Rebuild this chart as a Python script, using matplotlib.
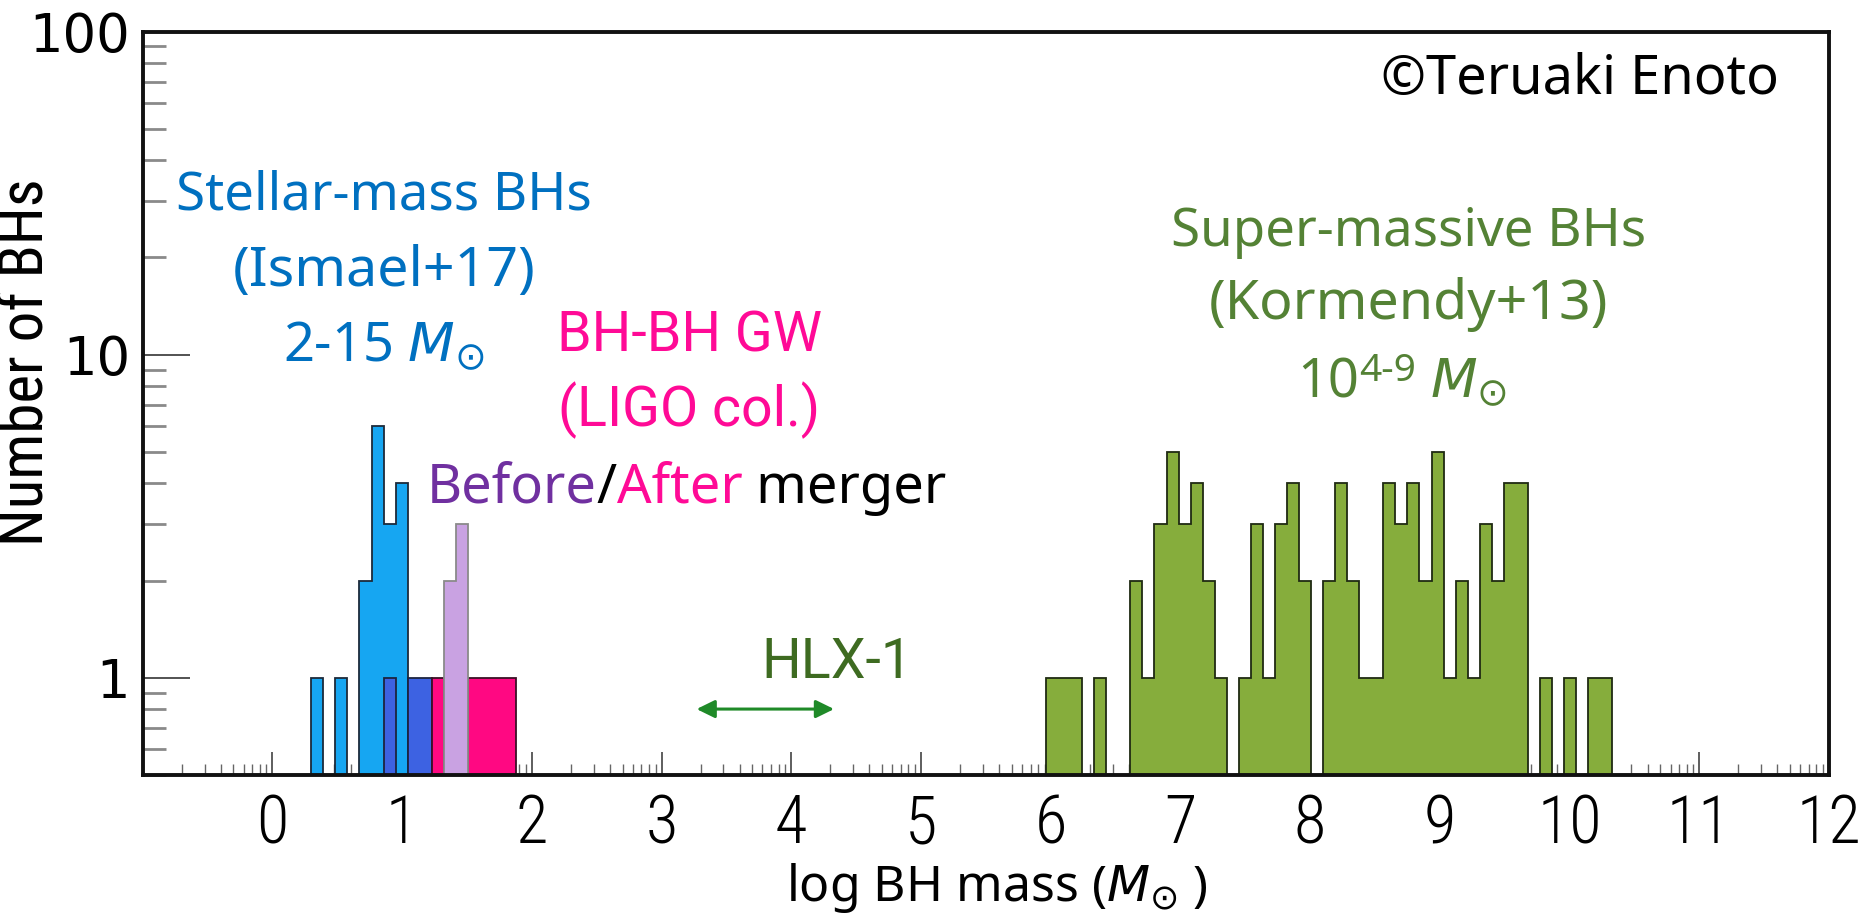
import numpy as np
import matplotlib
matplotlib.use("Agg")
import matplotlib.pyplot as plt
from matplotlib.ticker import FixedLocator, NullFormatter, FixedFormatter

# ---- histogram binning: 140 equal bins in log mass from -1 to 12 ----
bin_edges = np.linspace(-1, 12, 141)

# stellar-mass BHs (Ismael+17): bin index -> count
stellar_bins = [14, 16, 18, 19, 20, 21]
stellar_counts = [1, 1, 2, 6, 3, 4]

# BH-BH gravitational-wave events (LIGO col.)
gw_blue_bins = [20, 22, 23]
gw_blue_counts = [1, 1, 1]
gw_violet_bins = [25, 26]
gw_violet_counts = [2, 3]
gw_after_bins = [24, 27, 28, 29, 30]
gw_after_counts = [1, 1, 1, 1, 1]

# super-massive BHs (Kormendy+13)
smbh_bins = [75, 76, 77, 79, 82, 83, 84, 85, 86, 87, 88, 89, 91, 92, 93, 94,
             95, 96, 98, 99, 100, 101, 102, 103, 104, 105, 106, 107, 108, 109,
             110, 111, 112, 113, 114, 116, 118, 120, 121]
smbh_counts = [1, 1, 1, 1, 2, 1, 3, 5, 3, 4, 2, 1, 1, 3, 1, 3,
               4, 2, 2, 4, 2, 1, 1, 4, 3, 4, 2, 5, 1, 2,
               1, 3, 2, 4, 4, 1, 1, 1, 1]

# HLX-1 mass range (log M)
hlx_range = [3.27, 4.33]

x_tick_values = list(range(0, 13))
x_tick_labels = [str(v) for v in x_tick_values]
y_tick_values = [1, 10, 100]
y_tick_labels = ["1", "10", "100"]

FLOOR = 1e-3

plt.rcParams["mathtext.fontset"] = "dejavusans"

fig = plt.figure(figsize=(18.64, 9.16), dpi=100)
ax = fig.add_axes([0.07655, 0.15393, 0.98122 - 0.07655, 0.96539 - 0.15393])
ax.set_yscale("log")
ax.set_xlim(-1, 12)
ax.set_ylim(0.5, 100)


def counts_on_grid(bins, counts):
    arr = np.zeros(len(bin_edges) - 1)
    arr[bins] = counts
    return np.where(arr > 0, arr, FLOOR)


def draw_hist(bins, counts, face, edge, lw=1.3, z=2):
    ax.stairs(counts_on_grid(bins, counts), bin_edges, baseline=FLOOR,
              fill=True, facecolor=face, edgecolor=edge, linewidth=lw,
              zorder=z)


draw_hist(stellar_bins, stellar_counts, "#16A6F2", "#1c2a3a", z=2)
draw_hist(gw_blue_bins, gw_blue_counts, "#3D62E2", "#1c2440", z=3)
draw_hist(gw_after_bins, gw_after_counts, "#FF0882", "#3a1025", z=3)
draw_hist(gw_violet_bins, gw_violet_counts, "#C9A2E2", "#8a8a8a", z=4)
draw_hist(smbh_bins, smbh_counts, "#86AD3C", "#1f2a12", z=2)

# HLX-1 arrow
ax.annotate("", xy=(hlx_range[0], 0.8), xytext=(hlx_range[1], 0.8),
            arrowprops=dict(arrowstyle="<|-|>,head_length=0.55,head_width=0.27",
                            color="#1F8A28", lw=2.2, mutation_scale=20,
                            shrinkA=0, shrinkB=0), zorder=5)

# ---- axes styling ----
for sp in ax.spines.values():
    sp.set_linewidth(2.8)
    sp.set_color("#111111")
    sp.set_zorder(6)
ax.set_axisbelow(True)

x_minor = [n + np.log10(k) for n in range(-1, 12) for k in range(2, 10)]
ax.xaxis.set_major_locator(FixedLocator(x_tick_values))
ax.xaxis.set_major_formatter(FixedFormatter(x_tick_labels))
ax.xaxis.set_minor_locator(FixedLocator(x_minor))
ax.xaxis.set_minor_formatter(NullFormatter())

y_minor = [m * 10.0 ** d for d in (-1, 0, 1) for m in range(2, 10)]
ax.yaxis.set_major_locator(FixedLocator(y_tick_values))
ax.yaxis.set_major_formatter(FixedFormatter(y_tick_labels))
ax.yaxis.set_minor_locator(FixedLocator(y_minor))
ax.yaxis.set_minor_formatter(NullFormatter())

ax.tick_params(axis="x", which="major", direction="in", length=16.5,
               width=1.1, color="#333333", pad=13, labelsize=48)
ax.tick_params(axis="x", which="minor", direction="in", length=8,
               width=1.0, color="#666666")
ax.tick_params(axis="y", which="major", direction="in", length=34,
               width=1.3, color="#444444", pad=9, labelsize=38)
ax.tick_params(axis="y", which="minor", direction="in", length=16.5,
               width=2.0, color="#8a8a8a")

for lab in ax.get_xticklabels():
    lab.set_fontfamily("Roboto Condensed")
    lab.set_fontweight("light")

ax.set_ylabel("Number of BHs", fontsize=44, fontfamily="Roboto Condensed")
ax.yaxis.set_label_coords(-0.0520, 0.5556)
ax.set_xlabel(r"log BH mass ($M_{\odot}$ )", fontsize=36, fontfamily="Noto Sans")
ax.xaxis.set_label_coords(0.5066, -0.116)

# ---- annotations ----
BLUE = "#0070C0"
PINK = "#FF0A96"
PURPLE = "#7030A0"
GREEN = "#548235"

ax.text(0.86, 28.2, "Stellar-mass BHs", color=BLUE, fontsize=38,
        family="Noto Sans", ha="center", va="baseline")
ax.text(0.86, 16.3, "(Ismael+17)", color=BLUE, fontsize=40,
        family="Noto Sans", ha="center", va="baseline")
ax.text(0.86, 9.55, r"2-15 $M_{\odot}$", color=BLUE, fontsize=39,
        family="Noto Sans", ha="center", va="baseline")

ax.text(3.215, 10.26, "BH-BH GW", color=PINK, fontsize=40, family="Roboto",
        ha="center", va="baseline")
ax.text(3.215, 6.01, "(LIGO col.)", color=PINK, fontsize=40, family="Roboto",
        ha="center", va="baseline")

parts = [("Before", PURPLE), ("/", "black"), ("After", PINK), (" merger", "black")]
prev = ax.text(1.187, 3.48, parts[0][0], color=parts[0][1], fontsize=39,
               family="Noto Sans", ha="left", va="baseline")
for s, c in parts[1:]:
    prev = ax.annotate(s, xy=(1, 0), xycoords=prev, color=c, fontsize=39,
                       family="Noto Sans", ha="left", va="bottom")

ax.text(8.76, 21.7, "Super-massive BHs", color=GREEN, fontsize=38,
        family="Noto Sans", ha="center", va="baseline")
ax.text(8.76, 12.86, "(Kormendy+13)", color=GREEN, fontsize=40,
        family="Noto Sans", ha="center", va="baseline")
t10 = ax.text(7.90, 7.36, "10", color=GREEN, fontsize=39,
              family="Noto Sans", ha="left", va="baseline")
tsup = ax.annotate("4-9", xy=(1, 1.06), xycoords=t10, color=GREEN, fontsize=28,
                   family="Noto Sans", ha="left", va="top")
ax.annotate(r" $M_{\odot}$", xy=(1, 0), xycoords=(tsup, t10), color=GREEN,
            fontsize=39, family="Noto Sans", ha="left", va="bottom")

ax.text(4.35, 1.0, "HLX-1", color="#3E6B21", fontsize=40, family="Roboto",
        ha="center", va="baseline")

ax.text(11.61, 64.1, "\u00a9Teruaki Enoto", color="black", fontsize=39,
        family="Noto Sans", ha="right", va="baseline")

fig.savefig("out.png", dpi=100)
